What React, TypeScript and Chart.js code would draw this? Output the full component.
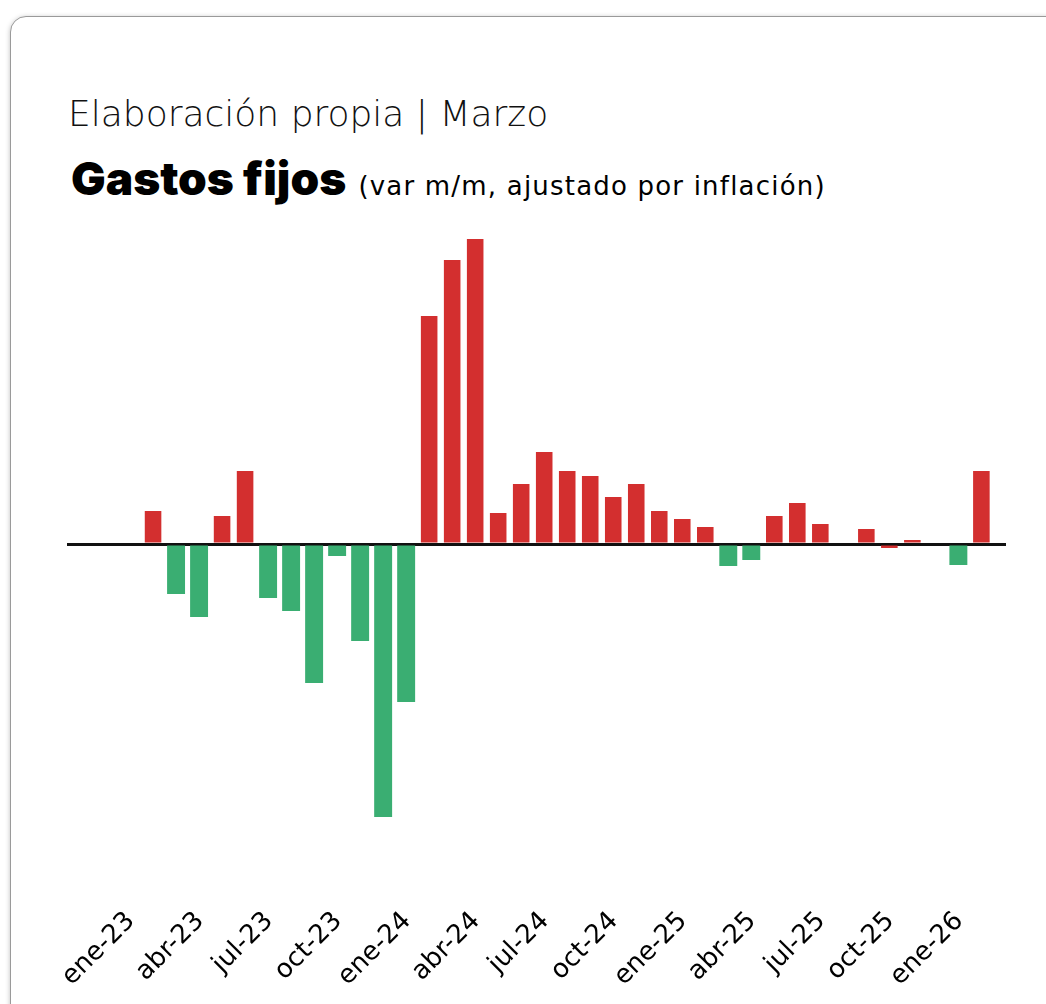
import React, { useEffect, useRef } from "react";
import { Chart, registerables } from "chart.js";

Chart.register(...registerables);

// Months from ene-23 to feb-26 (index 0 = ene-23)
const months = [
  "ene-23", "feb-23", "mar-23", "abr-23", "may-23", "jun-23", "jul-23", "ago-23", "sep-23", "oct-23", "nov-23", "dic-23",
  "ene-24", "feb-24", "mar-24", "abr-24", "may-24", "jun-24", "jul-24", "ago-24", "sep-24", "oct-24", "nov-24", "dic-24",
  "ene-25", "feb-25", "mar-25", "abr-25", "may-25", "jun-25", "jul-25", "ago-25", "sep-25", "oct-25", "nov-25", "dic-25",
  "ene-26", "feb-26",
];

// Variación m/m real (%), subas (rojo)
const subas: (number | null)[] = [
  null, 0.33, null, null, 0.28, 0.73, null, null, null, null, null, null,
  null, 2.28, 2.84, 3.05, 0.31, 0.6, 0.92, 0.73, 0.68, 0.47, 0.6, 0.33,
  0.25, 0.17, null, null, 0.28, 0.41, 0.2, 0, 0.15, -0.04, 0.04, 0,
  null, 0.73,
];

// Variación m/m real (%), bajas (verde)
const bajas: (number | null)[] = [
  null, null, -0.5, -0.73, null, null, -0.54, -0.67, -1.39, -0.12, -0.97, -2.73,
  -1.58, null, null, null, null, null, null, null, null, null, null, null,
  null, null, -0.22, -0.16, null, null, null, null, null, null, null, null,
  -0.21, null,
];

// Meses con etiqueta en el eje
const tickMonths = [0, 3, 6, 9, 12, 15, 18, 21, 24, 27, 30, 33, 36];

const RED = "#D32F2F";
const GREEN = "#3AAE72";

function toPoints(arr: (number | null)[]) {
  return arr.map((v, i) => ({ x: i, y: v }));
}

function BarChart() {
  const ref = useRef<HTMLCanvasElement | null>(null);
  useEffect(() => {
    if (!ref.current) return;
    const chart = new Chart(ref.current, {
      type: "bar",
      data: {
        datasets: [
          {
            label: "Bajas",
            data: toPoints(bajas) as any,
            backgroundColor: GREEN,
            grouped: false,
            categoryPercentage: 1,
            barPercentage: 0.78,
            borderWidth: 0,
          },
          {
            label: "Subas",
            data: toPoints(subas) as any,
            backgroundColor: RED,
            grouped: false,
            categoryPercentage: 1,
            barPercentage: 0.72,
            borderWidth: 0,
          },
        ],
      },
      options: {
        animation: false,
        responsive: false,
        maintainAspectRatio: false,
        layout: { padding: { left: 27, right: 0, top: 0, bottom: 0 } },
        plugins: {
          legend: { display: false },
          tooltip: { enabled: false },
          title: { display: false },
        },
        scales: {
          x: {
            type: "linear",
            min: -2.74,
            max: 38.07,
            offset: false,
            grid: { display: false, drawTicks: false, offset: false },
            border: { display: false },
            afterBuildTicks: (scale: any) => {
              scale.ticks = tickMonths.map((v) => ({ value: v }));
            },
            afterFit: (scale: any) => {
              scale.height = 100;
              scale.paddingLeft = 0;
              scale.paddingRight = 0;
            },
            ticks: {
              autoSkip: false,
              maxRotation: 45,
              minRotation: 45,
              padding: 12,
              labelOffset: 1,
              color: "#000",
              font: { family: "DejaVu Sans", size: 26, weight: "normal" },
              callback: (value: any) => months[Number(value)] ?? "",
            },
          },
          y: {
            min: -3.5,
            max: 3.1,
            z: 1,
            ticks: { display: false, stepSize: 0.5 },
            border: { display: false },
            grid: {
              drawTicks: false,
              color: (ctx: any) => (ctx.tick && ctx.tick.value === 0 ? "#111" : "rgba(0,0,0,0)"),
              lineWidth: (ctx: any) => (ctx.tick && ctx.tick.value === 0 ? 3 : 0),
            },
          },
        },
      },
    });
    return () => chart.destroy();
  }, []);
  return (
    <canvas
      ref={ref}
      width={966}
      height={760}
      style={{ position: "absolute", left: 40, top: 234, width: 966, height: 760 }}
    />
  );
}

export default function App() {
  return (
    <div style={{ position: "relative", width: 1046, height: 1004, overflow: "hidden", background: "#fff" }}>
      <style>{`html,body{margin:0;padding:0;overflow:hidden;background:#fff}`}</style>
      <div
        style={{
          position: "absolute",
          left: 10,
          top: 16,
          width: 1050,
          height: 1100,
          border: "1px solid #9a9a9a",
          borderRadius: 16,
          boxShadow: "0 1px 5px rgba(0,0,0,0.25)",
          background: "#fff",
        }}
      />
      <div
        style={{
          position: "absolute",
          left: 68,
          top: 96,
          fontFamily: "'DejaVu Sans'",
          fontWeight: 300,
          fontSize: 36,
          lineHeight: "36px",
          color: "#111",
          whiteSpace: "nowrap",
        }}
      >
        Elaboración propia | Marzo
      </div>
      <div
        style={{
          position: "absolute",
          left: 71,
          top: 156,
          fontFamily: "Inter",
          fontWeight: 900,
          fontSize: 46,
          lineHeight: "45px",
          color: "#000",
          whiteSpace: "nowrap",
        }}
      >
        Gastos fijos{" "}
        <span
          style={{
            fontFamily: "'DejaVu Sans'",
            fontWeight: 400,
            fontSize: 26,
            lineHeight: "26px",
            letterSpacing: 1.2,
            marginLeft: 3,
          }}
        >
          (var m/m, ajustado por inflación)
        </span>
      </div>
      <BarChart />
    </div>
  );
}
